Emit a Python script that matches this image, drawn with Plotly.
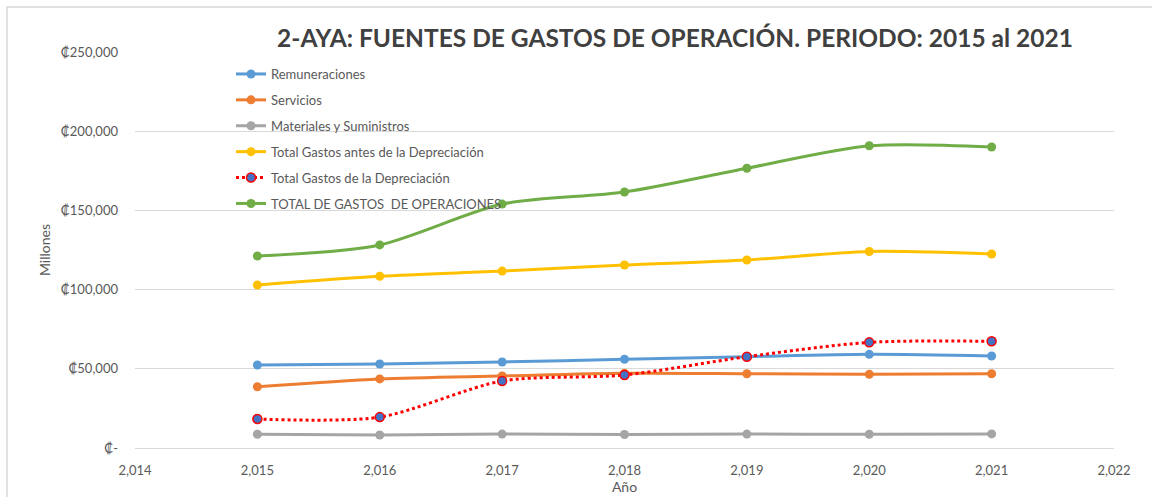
import plotly.graph_objects as go

# Years and operating expense series (millions of colones)
years = [2015, 2016, 2017, 2018, 2019, 2020, 2021]
remuneraciones = [52400, 53000, 54300, 56000, 57650, 59150, 58100]
servicios = [38700, 43600, 45450, 47150, 46900, 46500, 46900]
materiales = [8700, 8200, 8800, 8500, 8800, 8700, 8900]
antes_depreciacion = [102900, 108400, 111700, 115500, 118700, 124050, 122500]
depreciacion = [18300, 19500, 42300, 46100, 57650, 66700, 67350]
total_operaciones = [121200, 128200, 154000, 161600, 176600, 190800, 190000]

x_ticks = [2014, 2015, 2016, 2017, 2018, 2019, 2020, 2021, 2022]
x_labels = ["2,014", "2,015", "2,016", "2,017", "2,018", "2,019", "2,020", "2,021", "2,022"]
y_ticks = [0, 50000, 100000, 150000, 200000, 250000]
y_labels = ["₡-", "₡50,000", "₡100,000", "₡150,000", "₡200,000", "₡250,000"]

FONT = "Lato"
TXT = "#595959"

series = [
    ("Remuneraciones", remuneraciones, "#5B9BD5", "solid", "#5B9BD5", "#5B9BD5"),
    ("Servicios", servicios, "#ED7D31", "solid", "#ED7D31", "#ED7D31"),
    ("Materiales y Suministros", materiales, "#A5A5A5", "solid", "#A5A5A5", "#A5A5A5"),
    ("Total Gastos antes de la Depreciación", antes_depreciacion, "#FFC000", "solid", "#FFC000", "#FFC000"),
    ("Total Gastos de la Depreciación", depreciacion, "#FF0000", "dot", "#4472C4", "#FF0000"),
    ("TOTAL DE GASTOS  DE OPERACIONES", total_operaciones, "#70AD47", "solid", "#70AD47", "#70AD47"),
]

fig = go.Figure()
for i, (name, vals, color, dash, mfill, mline) in enumerate(series):
    fig.add_trace(go.Scatter(
        x=years, y=vals, name=name, mode="lines+markers",
        legendgroup=f"g{i}",
        line=dict(color=color, width=3, dash=dash, shape="spline", smoothing=0.8),
        marker=dict(size=9, color=mfill, line=dict(color=mline, width=1.5 if dash == "dot" else 0)),
    ))

# plot-area pixel geometry
L, R, T, B = 135, 38, 52, 49
W, H = 1152, 497
pw, ph = W - L - R, H - T - B

def px_x(p):
    return (p - L) / pw

def px_y(p):
    return (H - B - p) / ph

fig.update_layout(
    width=W, height=H,
    margin=dict(l=L, r=R, t=T, b=B),
    paper_bgcolor="white", plot_bgcolor="white",
    font=dict(family=FONT, color=TXT, size=13),
    title=dict(
        text="<b>2-AYA: FUENTES DE GASTOS DE OPERACIÓN. PERIODO: 2015 al 2021</b>",
        x=675 / W, xref="container", xanchor="center",
        y=1 - 38 / H, yref="container", yanchor="middle",
        font=dict(family=FONT, size=24.5, color="#404040"),
    ),
    xaxis=dict(
        range=[2014, 2022], tickvals=x_ticks, ticktext=x_labels,
        showgrid=False, zeroline=False, showline=True, linecolor="#D9D9D9", linewidth=1,
        ticklabelstandoff=10, automargin=False,
        tickfont=dict(size=13, color=TXT),
        title=dict(text="Año", font=dict(size=14, color=TXT), standoff=4),
    ),
    yaxis=dict(
        range=[0, 250000], tickvals=y_ticks, ticktext=y_labels,
        showgrid=True, gridcolor="#D9D9D9", gridwidth=1, zeroline=False,
        showline=False, ticks="", ticklabelstandoff=16, automargin=False,
        tickfont=dict(size=13, color=TXT),
        title=dict(text="Millones", font=dict(size=14, color=TXT), standoff=6),
    ),
    legend=dict(
        x=px_x(231), y=px_y(59), xanchor="left", yanchor="top",
        bgcolor="rgba(0,0,0,0)", font=dict(size=13, color=TXT),
        tracegroupgap=6, itemwidth=30,
    ),
    showlegend=True,
    shapes=[dict(
        type="rect", xref="paper", yref="paper",
        x0=px_x(7), x1=px_x(1165), y0=px_y(510), y1=px_y(7),
        line=dict(color="#D9D9D9", width=1.5), fillcolor="rgba(0,0,0,0)", layer="below",
    )],
)

fig.write_html("out.html")
